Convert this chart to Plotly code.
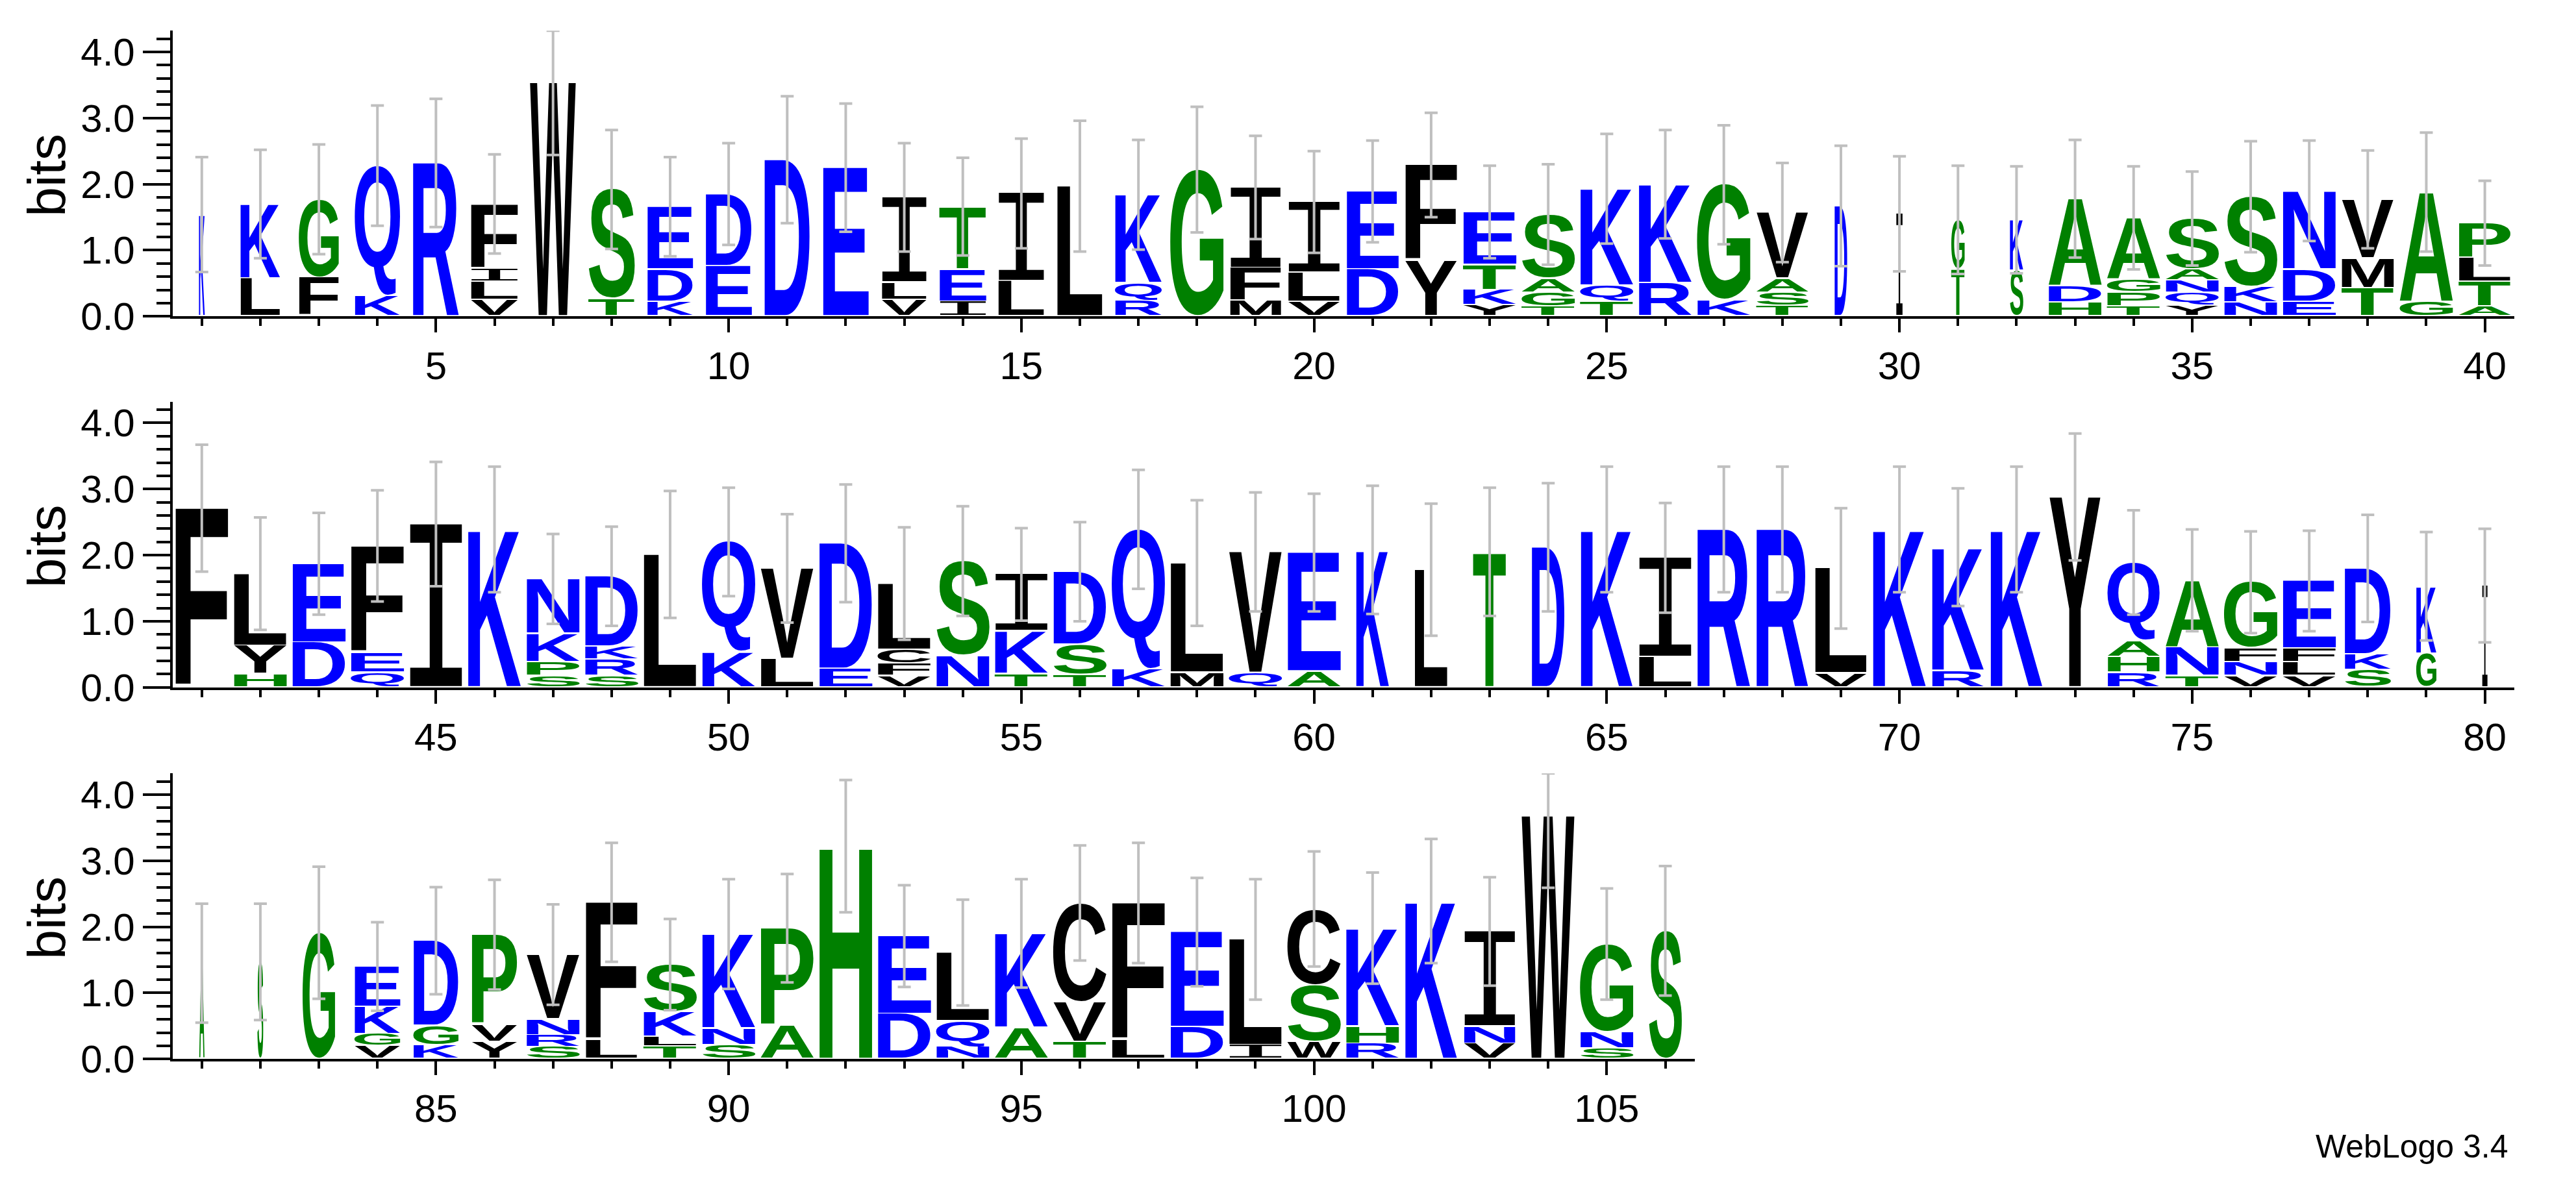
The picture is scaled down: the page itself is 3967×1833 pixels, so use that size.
import plotly.graph_objects as go

# stacks, bottom to top, one string per position
letters = [
    "K", "LK", "FG", "KQ", "R", "VLIF", "W", "TS", "KDE", "ED",
    "D", "E", "VLI", "IET", "LI", "L", "RQK", "G", "MFI", "VLI",
    "DE", "YF", "YKTE", "TGAS", "TQK", "RK", "KG", "TSAV", "D", "I",
    "TG", "SK", "HDA", "TPGA", "YQNAS", "NKS", "EDN", "TMV", "GA", "ATLP",
    "F", "HYL", "DE", "QEF", "I", "K", "SPKN", "SRKD", "L", "KQ",
    "LV", "ED", "VFCL", "NS", "TKI", "TSD", "KQ", "ML", "QV", "AE",
    "K", "L", "T", "D", "K", "LI", "R", "R", "VL", "K",
    "RK", "K", "Y", "RHAQ", "TNA", "VNFG", "VLFE", "SKD", "GK", "I",
    "A", "S", "G", "VGKE", "KGD", "YVP", "SRNV", "LF", "TLKS", "SNK",
    "AP", "H", "DE", "NQL", "AK", "TVC", "LF", "DE", "IL", "WSC",
    "RHK", "K", "VNI", "W", "SNG", "S",
]

# letter heights in bits, same order as the letters
heights = [
    [1.54], [0.57, 1.13], [0.585, 1.185], [0.31, 1.97], [2.32],
    [0.25, 0.27, 0.20, 0.98], [3.54], [0.26, 1.66], [0.22, 0.49, 0.95], [0.76, 1.09],
    [2.37], [2.25], [0.25, 0.26, 1.29], [0.22, 0.49, 0.95], [0.53, 1.33],
    [1.97], [0.23, 0.27, 1.34], [2.22], [0.23, 0.50, 1.22], [0.22, 0.44, 1.07],
    [0.71, 1.18], [0.84, 1.45], [0.17, 0.23, 0.38, 0.80], [0.15, 0.21, 0.21, 0.97], [0.22, 0.24, 1.47],
    [0.50, 1.50], [0.24, 1.75], [0.16, 0.20, 0.21, 1.00], [1.67], [1.55],
    [0.71, 0.75], [0.69, 0.77], [0.21, 0.24, 1.33], [0.15, 0.21, 0.19, 0.94], [0.16, 0.20, 0.18, 0.17, 0.77],
    [0.21, 0.24, 1.36], [0.22, 0.49, 1.19], [0.43, 0.45, 0.89], [0.22, 1.66], [0.15, 0.37, 0.36, 0.53],
    [2.71], [0.20, 0.43, 1.09], [0.68, 1.19], [0.22, 0.30, 1.62], [2.47],
    [2.39], [0.17, 0.21, 0.43, 0.83], [0.17, 0.25, 0.20, 1.06], [2.01], [0.53, 1.67],
    [0.43, 1.37], [0.28, 1.90], [0.17, 0.19, 0.21, 1.00], [0.48, 1.43], [0.20, 0.65, 0.86],
    [0.19, 0.46, 1.10], [0.27, 2.12], [0.22, 1.66], [0.22, 1.83], [0.24, 1.80],
    [2.08], [1.78], [2.05], [2.12], [2.39],
    [0.46, 1.50], [2.39], [2.39], [0.21, 1.59], [2.39],
    [0.25, 1.87], [2.39], [2.88], [0.22, 0.24, 0.24, 1.19], [0.17, 0.44, 1.01],
    [0.17, 0.21, 0.21, 1.00], [0.17, 0.21, 0.21, 1.02], [0.26, 0.24, 1.30], [0.51, 1.02], [1.54],
    [1.45], [1.47], [1.91], [0.20, 0.18, 0.41, 0.61], [0.21, 0.29, 1.29],
    [0.26, 0.26, 1.36], [0.18, 0.18, 0.24, 0.98], [0.28, 2.09], [0.19, 0.15, 0.37, 0.72], [0.21, 0.25, 1.43],
    [0.50, 1.48], [3.22], [0.68, 1.18], [0.18, 0.39, 1.04], [0.47, 1.43],
    [0.26, 0.60, 1.50], [0.28, 2.08], [0.48, 1.44], [0.21, 1.60], [0.26, 0.86, 1.15],
    [0.23, 0.26, 1.49], [2.39], [0.23, 0.26, 1.44], [3.68], [0.16, 0.25, 1.33],
    [1.94],
]

# stack width as a share of a full column (gap occupancy)
widths = [
    0.11, 0.75, 0.75, 0.85, 0.87, 0.89, 0.86, 0.87, 0.86, 0.87,
    0.86, 0.86, 0.85, 0.88, 0.87, 0.86, 0.88, 1.0, 0.96, 0.98,
    0.98, 0.98, 1.0, 1.0, 1.0, 1.0, 1.0, 0.98, 0.24, 0.12,
    0.25, 0.25, 1.0, 1.0, 1.0, 1.0, 1.0, 0.98, 1.0, 0.98,
    1.0, 1.0, 1.0, 1.0, 1.0, 1.0, 1.0, 1.0, 1.0, 1.0,
    1.0, 1.0, 1.0, 1.0, 1.0, 1.0, 1.0, 1.0, 1.0, 1.0,
    0.62, 0.62, 0.62, 0.62, 0.98, 1.0, 1.0, 0.98, 0.98, 1.0,
    0.98, 0.98, 0.97, 0.98, 1.0, 1.0, 1.0, 0.87, 0.38, 0.10,
    0.10, 0.11, 0.61, 0.86, 0.85, 0.86, 1.0, 0.98, 1.0, 1.0,
    1.0, 1.0, 1.0, 1.0, 1.0, 1.0, 1.0, 1.0, 1.0, 1.0,
    1.0, 0.98, 0.97, 0.99, 1.0, 0.62,
]

# half length of the error bars, bits
errors = [
    0.87, 0.82, 0.83, 0.91, 0.97, 0.75, 1.10, 0.90, 0.75, 0.77,
    0.96, 0.97, 0.82, 0.74, 0.83, 0.99, 0.83, 0.95, 0.78, 0.77,
    0.77, 0.79, 0.70, 0.76, 0.83, 0.82, 0.90, 0.75, 0.91, 0.87,
    0.82, 0.81, 0.89, 0.78, 0.71, 0.84, 0.76, 0.74, 0.90, 0.64,
    0.96, 0.85, 0.77, 0.84, 0.94, 0.95, 0.68, 0.75, 0.96, 0.82,
    0.82, 0.89, 0.85, 0.83, 0.70, 0.75, 0.90, 0.95, 0.90, 0.89,
    0.97, 1.00, 0.97, 0.97, 0.95, 0.83, 0.95, 0.95, 0.91, 0.95,
    0.89, 0.95, 0.96, 0.79, 0.77, 0.77, 0.76, 0.81, 0.82, 0.86,
    0.90, 0.88, 1.00, 0.67, 0.81, 0.83, 0.76, 0.90, 0.69, 0.83,
    0.82, 1.00, 0.77, 0.80, 0.82, 0.87, 0.91, 0.82, 0.91, 0.87,
    0.84, 0.94, 0.82, 1.09, 0.84, 0.98,
]

row_spans = [(1, 40), (41, 80), (81, 106)]
y_ticks = [0, 1, 2, 3, 4]

YMAX = 4.3219  # log2(20)
BLUE, GREEN, BLACK = "#0000FF", "#008000", "#000000"
colour = {}
for aa in "RKDENQ":
    colour[aa] = BLUE
for aa in "SGHTAP":
    colour[aa] = GREEN
for aa in "YVMCLFIW":
    colour[aa] = BLACK

# page geometry in pixels
W, H = 3967, 1833
LEFT = 265.7
COL = 90.15
BIT = 103.75
BASELINES = [496.5, 1078.8, 1662.1]
FULL = 0.915  # letter width of a full column

fig = go.Figure()
layout_axes = {}

for r, (first, last) in enumerate(row_spans):
    n = r + 1
    xname = "x" if n == 1 else f"x{n}"
    yname = "y" if n == 1 else f"y{n}"

    sans = dict(x=[], y=[], text=[], color=[], cd=[])
    mono = dict(x=[], y=[], text=[], color=[], cd=[])
    ex, ey, eup, edown = [], [], [], []
    for pos in range(first, last + 1):
        i = pos - 1
        hw = widths[i] * FULL / 2
        y0 = 0.0
        for aa, h in zip(letters[i], heights[i]):
            bucket = mono if aa == "I" else sans
            bucket["x"].append(pos)
            bucket["y"].append(y0 + h / 2)
            bucket["text"].append(aa)
            bucket["color"].append(colour[aa])
            bucket["cd"].append([pos, hw, y0, y0 + h])
            y0 += h
        ex.append(pos)
        ey.append(y0)
        eup.append(min(errors[i], YMAX - y0))
        edown.append(errors[i])

    for bucket, family, weight in ((sans, "Liberation Sans", "bold"),
                                   (mono, "DejaVu Sans Mono", "normal")):
        fig.add_trace(go.Scatter(
            x=bucket["x"], y=bucket["y"], text=bucket["text"],
            customdata=bucket["cd"], mode="text", meta="logo",
            textfont=dict(family=family, size=100, weight=weight, color=bucket["color"]),
            cliponaxis=False, hoverinfo="skip", xaxis=xname, yaxis=yname,
        ))

    fig.add_trace(go.Scatter(
        x=ex, y=ey, mode="markers", marker=dict(size=1, opacity=0),
        error_y=dict(type="data", symmetric=False, array=eup, arrayminus=edown,
                     color="#BFBFBF", thickness=4, width=10),
        cliponaxis=False, hoverinfo="skip", xaxis=xname, yaxis=yname,
    ))

    ncols = last - first + 1
    x0 = LEFT / W
    x1 = (LEFT + ncols * COL) / W
    ybot = (H - BASELINES[r]) / H
    ytop = (H - BASELINES[r] + YMAX * BIT) / H

    layout_axes["xaxis" if n == 1 else f"xaxis{n}"] = dict(
        domain=[x0, x1], range=[first - 0.5, last + 0.5], anchor=yname,
        tick0=0, dtick=5, ticks="outside", ticklen=21, tickwidth=4, tickcolor="black",
        showline=True, linewidth=4, linecolor="black", showgrid=False, zeroline=False,
        tickfont=dict(family="Liberation Sans", size=60, color="black"),
        minor=dict(dtick=1, tick0=0, ticks="outside", ticklen=11, tickwidth=4, tickcolor="black"),
    )
    layout_axes["yaxis" if n == 1 else f"yaxis{n}"] = dict(
        domain=[ybot, ytop], range=[0, YMAX], anchor=xname,
        tickvals=y_ticks, tickformat=".1f", ticks="outside", ticklen=42, tickwidth=4,
        tickcolor="black", showline=True, linewidth=4, linecolor="black",
        showgrid=False, zeroline=False,
        tickfont=dict(family="Liberation Sans", size=60, color="black"),
        minor=dict(dtick=0.2, tick0=0, ticks="outside", ticklen=21, tickwidth=4, tickcolor="black"),
    )
    fig.add_annotation(
        text="bits", textangle=-90, xref="paper", yref="paper",
        x=71.5 / W, y=(H - BASELINES[r] + YMAX * BIT / 2 - 3) / H,
        xanchor="center", yanchor="middle", showarrow=False,
        font=dict(family="Liberation Sans", size=82, color="black"),
    )

fig.add_annotation(
    text="WebLogo 3.4", xref="paper", yref="paper",
    x=3865 / W, y=(H - 1799) / H, xanchor="right", yanchor="middle", showarrow=False,
    font=dict(family="Liberation Sans", size=50, color="black"),
)

fig.update_layout(
    width=W, height=H, margin=dict(l=0, r=0, t=0, b=0),
    paper_bgcolor="white", plot_bgcolor="white", showlegend=False,
    **layout_axes,
)

# stretch every letter so its ink fills its box (sequence-logo style)
stretch_js = """
var gd = document.getElementById('{plot_id}');
document.body.style.margin = '0';
var ctx = document.createElement('canvas').getContext('2d');
var PAD = 2;
gd.querySelectorAll('g.trace.scatter').forEach(function (g) {
  var cd = g.__data__;
  if (!cd || !cd[0] || !cd[0].trace) return;
  var tr = cd[0].trace;
  if (tr.meta !== 'logo') return;
  var xa = gd._fullLayout[tr.xaxis.replace('x', 'xaxis')];
  var ya = gd._fullLayout[tr.yaxis.replace('y', 'yaxis')];
  g.querySelectorAll('g.textpoint').forEach(function (tp, k) {
    var pt = tp.__data__ || {};
    var i = (pt.i !== undefined) ? pt.i : k;
    var c = tr.customdata[i];
    var t = tp.querySelector('text');
    if (!t || !c) return;
    var cs = window.getComputedStyle(t);
    ctx.font = cs.fontWeight + ' ' + cs.fontSize + ' ' + cs.fontFamily;
    var m = ctx.measureText(t.textContent);
    var left = -m.actualBoundingBoxLeft, right = m.actualBoundingBoxRight;
    var asc = m.actualBoundingBoxAscent, desc = m.actualBoundingBoxDescent;
    var X0 = xa.l2p(c[0] - c[1]), X1 = xa.l2p(c[0] + c[1]);
    var Yt = ya.l2p(c[3]), Yb = ya.l2p(c[2]) - PAD;
    var sx = (X1 - X0) / (right - left), sy = (Yb - Yt) / (asc + desc);
    tp.removeAttribute('transform');
    t.removeAttribute('dy');
    t.setAttribute('x', 0);
    t.setAttribute('y', 0);
    t.setAttribute('text-anchor', 'start');
    t.querySelectorAll('tspan').forEach(function (s) {
      s.removeAttribute('dy'); s.setAttribute('x', 0);
    });
    t.setAttribute('transform', 'translate(' + X0 + ',' + Yt + ') scale(' + sx + ',' + sy +
                   ') translate(' + (-left) + ',' + asc + ')');
  });
});
"""

fig.write_html("out.html", post_script=stretch_js, config={"displayModeBar": False})
